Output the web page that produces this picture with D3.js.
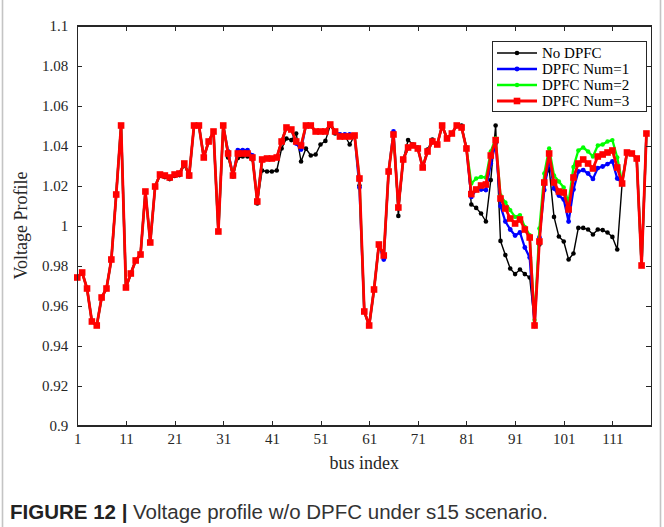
<!DOCTYPE html>
<html>
<head>
<meta charset="utf-8">
<script src="https://cdn.jsdelivr.net/npm/d3@7"></script>
<style>
  html, body { margin: 0; padding: 0; background: #fff; }
  svg { display: block; }
</style>
</head>
<body>
<svg id="chart" width="664" height="527"></svg>
<script>

// bus index 1..118
const busIndex = d3.range(1, 119);

const noDpfc = [
  0.974, 0.9765, 0.9685, 0.952, 0.950, 0.964, 0.9685, 0.983, 1.0155, 1.050, 0.969, 0.976, 0.9825, 0.9855, 1.017, 0.9915, 1.0195,
  1.0248, 1.0242, 1.0232, 1.0248, 1.0252, 1.030, 1.0245,
  1.050, 1.050, 1.034, 1.042, 1.047, 0.997, 1.050,
  1.034, 1.0245, 1.0337, 1.0345, 1.0345, 1.033, 1.011,
  1.0275, 1.027, 1.027, 1.0275, 1.0385, 1.0435, 1.0427,
  1.046, 1.032, 1.0385, 1.035, 1.0355, 1.0405, 1.0423,
  1.050, 1.046, 1.045, 1.045, 1.0405, 1.045, 1.020,
  0.957, 0.950, 0.968, 0.9905, 0.985, 1.027, 1.0455,
  1.0048, 1.033, 1.0427, 1.0405, 1.039, 1.029, 1.038,
  1.043, 1.0405, 1.050, 1.0435, 1.046, 1.050, 1.050,
  1.039, 1.0105, 1.0088, 1.006, 1.002, 1.0227, 1.050,
  0.9923, 0.9852, 0.9785, 0.9757, 0.978, 0.9757, 0.974,
  0.9507, 0.9905, 1.0215, 1.0285, 1.0043, 0.9945, 0.992,
  0.983, 0.986, 0.9988, 0.9988, 0.998, 0.9955, 0.998,
  0.9977, 0.9965, 0.9943, 0.988, 1.021, 1.0365, 1.036,
  1.0335, 0.980, 1.046
];

const dpfcNum1 = [
  0.974, 0.9765, 0.9685, 0.952, 0.950, 0.964, 0.9685, 0.983, 1.0155, 1.050, 0.969, 0.976, 0.9825, 0.9855, 1.017, 0.9915, 1.0195,
  1.0255, 1.025, 1.024, 1.0255, 1.026, 1.031, 1.025,
  1.050, 1.050, 1.034, 1.042, 1.047, 0.997, 1.050,
  1.037, 1.025, 1.0377, 1.0377, 1.0377, 1.035, 1.012,
  1.033, 1.0335, 1.0335, 1.034, 1.042, 1.049, 1.048,
  1.041, 1.038, 1.050, 1.050, 1.047, 1.047, 1.047,
  1.0505, 1.047, 1.0455, 1.0455, 1.0455, 1.045, 1.019,
  0.957, 0.950, 0.968, 0.9905, 0.983, 1.027, 1.047,
  1.009, 1.033, 1.039, 1.040, 1.0385, 1.029, 1.037,
  1.042, 1.0405, 1.050, 1.0435, 1.046, 1.050, 1.049,
  1.0385, 1.0143, 1.0177, 1.018, 1.0177, 1.031, 1.041,
  1.0097, 1.002, 0.998, 0.995, 0.9965, 0.989, 0.984,
  0.9497, 0.994, 1.0177, 1.0335, 1.0185, 1.015, 1.013,
  1.002, 1.018, 1.027, 1.0277, 1.026, 1.0233, 1.0287,
  1.0295, 1.0307, 1.032, 1.0235, 1.0215, 1.0365, 1.036,
  1.0335, 0.980, 1.046
];

const dpfcNum2 = [
  0.974, 0.9765, 0.9685, 0.952, 0.950, 0.964, 0.9685, 0.983, 1.0155, 1.050, 0.969, 0.976, 0.9825, 0.9855, 1.017, 0.9915, 1.0195,
  1.0255, 1.025, 1.024, 1.0255, 1.026, 1.031, 1.025,
  1.050, 1.050, 1.034, 1.042, 1.047, 0.997, 1.050,
  1.036, 1.025, 1.036, 1.036, 1.036, 1.034, 1.012,
  1.033, 1.0335, 1.0335, 1.034, 1.042, 1.049, 1.048,
  1.042, 1.040, 1.050, 1.050, 1.047, 1.047, 1.047,
  1.0505, 1.047, 1.0445, 1.0445, 1.0445, 1.045, 1.0235,
  0.957, 0.950, 0.968, 0.9905, 0.985, 1.027, 1.0455,
  1.009, 1.033, 1.039, 1.040, 1.0385, 1.0295, 1.037,
  1.042, 1.0405, 1.050, 1.0435, 1.046, 1.050, 1.049,
  1.0385, 1.021, 1.0235, 1.0243, 1.024, 1.037, 1.0435,
  1.015, 1.0115, 1.0077, 1.0043, 1.0052, 0.9993, 0.9952,
  0.9527, 0.9985, 1.026, 1.0385, 1.025, 1.022, 1.019,
  1.0115, 1.0293, 1.0375, 1.039, 1.037, 1.0345, 1.040,
  1.0405, 1.042, 1.0427, 1.034, 1.0215, 1.0365, 1.036,
  1.0335, 0.980, 1.046
];

const dpfcNum3 = [
  0.974, 0.9765, 0.9685, 0.952, 0.950, 0.964, 0.9685, 0.983, 1.0155, 1.050, 0.969, 0.976, 0.9825, 0.9855, 1.017, 0.9915, 1.0195,
  1.0255, 1.025, 1.024, 1.0255, 1.026, 1.031, 1.025,
  1.050, 1.050, 1.034, 1.042, 1.047, 0.997, 1.050,
  1.036, 1.025, 1.036, 1.036, 1.036, 1.034, 1.012,
  1.033, 1.0335, 1.0335, 1.034, 1.042, 1.049, 1.048,
  1.042, 1.040, 1.050, 1.050, 1.047, 1.047, 1.047,
  1.0505, 1.047, 1.0445, 1.0445, 1.0445, 1.045, 1.0235,
  0.957, 0.950, 0.968, 0.9905, 0.985, 1.027, 1.0455,
  1.009, 1.033, 1.039, 1.040, 1.0385, 1.029, 1.037,
  1.042, 1.0405, 1.050, 1.0435, 1.046, 1.050, 1.049,
  1.0385, 1.0157, 1.018, 1.020, 1.0205, 1.035, 1.0427,
  1.0135, 1.0085, 1.0035, 1.001, 1.003, 0.998, 0.994,
  0.950, 0.992, 1.0215, 1.036, 1.0215, 1.017, 1.0165,
  1.008, 1.024, 1.031, 1.033, 1.031, 1.0285, 1.0345,
  1.0355, 1.0365, 1.0375, 1.029, 1.021, 1.0365, 1.036,
  1.0335, 0.980, 1.046
];

const seriesNames = ["No DPFC", "DPFC Num=1", "DPFC Num=2", "DPFC Num=3"];

const xTicks = [1, 11, 21, 31, 41, 51, 61, 71, 81, 91, 101, 111];
const xTickLabels = ["1", "11", "21", "31", "41", "51", "61", "71", "81", "91", "101", "111"];
const yTicks = [0.9, 0.92, 0.94, 0.96, 0.98, 1.0, 1.02, 1.04, 1.06, 1.08, 1.1];
const yTickLabels = ["0.9", "0.92", "0.94", "0.96", "0.98", "1", "1.02", "1.04", "1.06", "1.08", "1.1"];

// drawing styles per series (black, blue, green, red)
const styles = [
  {color: "#000000", width: 1.4, marker: "dot", r: 2.3},
  {color: "#0000ff", width: 2.3, marker: "dot", r: 2.4},
  {color: "#00ff00", width: 2.3, marker: "dot", r: 2.2},
  {color: "#ff0000", width: 2.8, marker: "square", r: 3.3}
];

const serif = "'Liberation Serif', 'Times New Roman', serif";

function buildSVG() {
  const svg = d3.select("#chart");
  svg.append("rect").attr("width", 664).attr("height", 527).attr("fill", "#fff");
  // grey panel borders of the figure
  svg.append("line").attr("x1", 2.5).attr("x2", 2.5).attr("y1", 0).attr("y2", 527)
     .attr("stroke", "#c4c4c4").attr("stroke-width", 1.6);
  svg.append("line").attr("x1", 660.5).attr("x2", 660.5).attr("y1", 0).attr("y2", 527)
     .attr("stroke", "#c4c4c4").attr("stroke-width", 1.6);
  return svg;
}

function buildXaxis() {
  return d3.scaleLinear().domain([1, 119]).range([77.3, 651.3]);
}

function buildYAxis() {
  return d3.scaleLinear().domain([0.9, 1.1]).range([425.5, 25.5]);
}

function drawAxes(svg, x, y) {
  const [x0, x1] = x.range();
  const [y0, y1] = y.range();

  const bottom = svg.append("g")
    .attr("transform", "translate(0," + y0 + ")")
    .call(d3.axisBottom(x).tickValues(xTicks)
      .tickFormat((d, i) => xTickLabels[i])
      .tickSizeInner(-5).tickSizeOuter(0).tickPadding(8));

  const left = svg.append("g")
    .attr("transform", "translate(" + x0 + ",0)")
    .call(d3.axisLeft(y).tickValues(yTicks)
      .tickFormat((d, i) => yTickLabels[i])
      .tickSizeInner(-5).tickSizeOuter(0).tickPadding(9));

  const top = svg.append("g")
    .attr("transform", "translate(0," + y1 + ")")
    .call(d3.axisTop(x).tickValues(xTicks).tickFormat("")
      .tickSizeInner(-5).tickSizeOuter(0));

  const right = svg.append("g")
    .attr("transform", "translate(" + x1 + ",0)")
    .call(d3.axisRight(y).tickValues(yTicks).tickFormat("")
      .tickSizeInner(-5).tickSizeOuter(0));

  [bottom, left, top, right].forEach(a => {
    a.selectAll("path, line").attr("stroke", "#262626").attr("shape-rendering", "crispEdges");
    a.selectAll("text").attr("fill", "#262626").style("font", "15px " + serif);
  });

  svg.append("text")
    .attr("x", (x0 + x1) / 2).attr("y", 469)
    .attr("text-anchor", "middle")
    .attr("fill", "#262626")
    .style("font", "18px " + serif)
    .text("bus index");

  svg.append("text")
    .attr("transform", "translate(27," + ((y0 + y1) / 2) + ") rotate(-90)")
    .attr("text-anchor", "middle")
    .attr("fill", "#262626")
    .style("font", "18px " + serif)
    .text("Voltage Profile");
}

function drawSeries(svg, x, y, values, st) {
  const line = d3.line()
    .x((d, i) => x(busIndex[i]))
    .y(d => y(d));

  const g = svg.append("g");
  g.append("path")
    .datum(values)
    .attr("fill", "none")
    .attr("stroke", st.color)
    .attr("stroke-width", st.width)
    .attr("stroke-linejoin", "round")
    .attr("d", line);

  if (st.marker === "square") {
    g.selectAll("rect")
      .data(values)
      .enter().append("rect")
      .attr("x", (d, i) => x(busIndex[i]) - st.r)
      .attr("y", d => y(d) - st.r)
      .attr("width", st.r * 2)
      .attr("height", st.r * 2)
      .attr("fill", st.color);
  } else {
    g.selectAll("circle")
      .data(values)
      .enter().append("circle")
      .attr("cx", (d, i) => x(busIndex[i]))
      .attr("cy", d => y(d))
      .attr("r", st.r)
      .attr("fill", st.color);
  }
}

function buildLegend(svg) {
  const box = {x: 492.5, y: 41.5, w: 154, h: 70};
  const lg = svg.append("g");
  lg.append("rect")
    .attr("x", box.x).attr("y", box.y)
    .attr("width", box.w).attr("height", box.h)
    .attr("fill", "#fff").attr("stroke", "#262626").attr("stroke-width", 1)
    .attr("shape-rendering", "crispEdges");

  const rows = lg.selectAll(".legend")
    .data(seriesNames)
    .enter().append("g")
    .attr("class", "legend")
    .attr("transform", (d, i) => "translate(0," + (box.y + 11.5 + i * 16) + ")");

  rows.append("line")
    .attr("x1", 497).attr("x2", 537)
    .attr("stroke", (d, i) => styles[i].color)
    .attr("stroke-width", (d, i) => styles[i].width);

  rows.each(function(d, i) {
    const st = styles[i];
    if (st.marker === "square") {
      d3.select(this).append("rect")
        .attr("x", 517 - st.r).attr("y", -st.r)
        .attr("width", st.r * 2).attr("height", st.r * 2)
        .attr("fill", st.color);
    } else {
      d3.select(this).append("circle")
        .attr("cx", 517).attr("r", st.r).attr("fill", st.color);
    }
  });

  rows.append("text")
    .attr("x", 542)
    .attr("dy", "0.34em")
    .attr("fill", "#000")
    .style("font", "15px " + serif)
    .text(d => d);
}

function buildCaption(svg) {
  const t = svg.append("text")
    .attr("x", 10).attr("y", 519)
    .attr("fill", "#333")
    .style("font-family", "'Liberation Sans', Arial, sans-serif")
    .style("font-size", "20.5px");
  t.append("tspan").attr("font-weight", "bold").attr("fill", "#222").text("FIGURE 12 | ");
  t.append("tspan").text("Voltage profile w/o DPFC under s15 scenario.");
}

function render() {
  const svg = buildSVG();
  const x = buildXaxis();
  const y = buildYAxis();

  [noDpfc, dpfcNum1, dpfcNum2, dpfcNum3].forEach((vals, i) => drawSeries(svg, x, y, vals, styles[i]));

  // plot frame
  svg.append("rect")
    .attr("x", x.range()[0]).attr("y", y.range()[1])
    .attr("width", x.range()[1] - x.range()[0])
    .attr("height", y.range()[0] - y.range()[1])
    .attr("fill", "none").attr("stroke", "#262626")
    .attr("shape-rendering", "crispEdges");

  drawAxes(svg, x, y);
  buildLegend(svg);
  buildCaption(svg);
}

render();
</script>
</body>
</html>
